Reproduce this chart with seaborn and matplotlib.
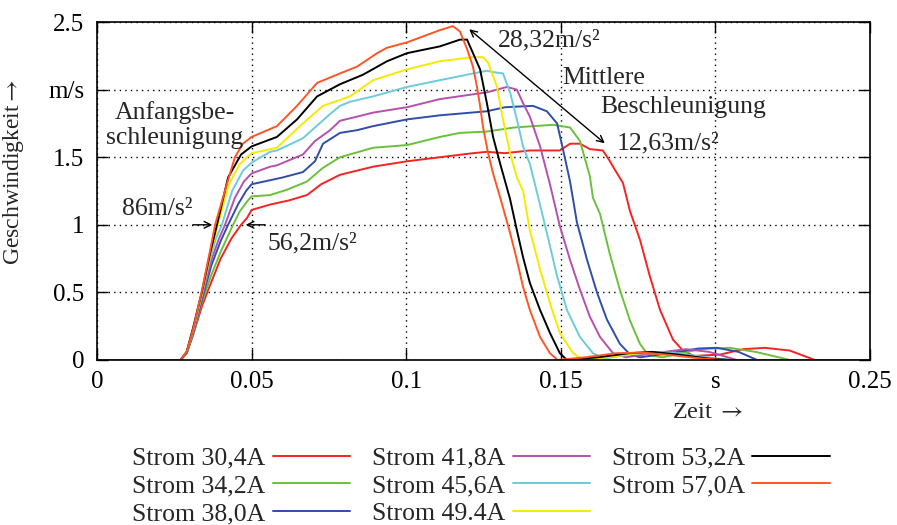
import matplotlib
matplotlib.use("Agg")
import matplotlib.pyplot as plt
import numpy as np
import pandas as pd
import seaborn as sns

# Zeit [s] und Geschwindigkeit [m/s] je Stromstaerke
strom_labels = ["Strom 30,4A", "Strom 34,2A", "Strom 38,0A", "Strom 41,8A",
                "Strom 45,6A", "Strom 49.4A", "Strom 53,2A", "Strom 57,0A"]
farben = ["#f52323", "#6cc03c", "#2f4ea8", "#b650ae",
          "#6ccbdc", "#f7ea00", "#000000", "#ff5526"]

kurve_304 = [(0, 0), (0.027, 0), (0.029, 0.05), (0.031, 0.18), (0.034, 0.40), (0.036, 0.52),
             (0.040, 0.75), (0.0435, 0.90), (0.0466, 1.0), (0.0485, 1.05), (0.050, 1.11),
             (0.056, 1.15), (0.062, 1.18), (0.0679, 1.22), (0.0725, 1.30), (0.0786, 1.37),
             (0.0893, 1.43), (0.1003, 1.47), (0.1109, 1.50), (0.1216, 1.53), (0.1261, 1.54),
             (0.1320, 1.53), (0.1400, 1.55), (0.1497, 1.55), (0.1530, 1.60), (0.1562, 1.60),
             (0.1594, 1.56), (0.1636, 1.55), (0.1659, 1.47), (0.1669, 1.43), (0.1701, 1.31),
             (0.1724, 1.10), (0.1756, 0.89), (0.1788, 0.62), (0.1821, 0.37), (0.1863, 0.15),
             (0.1895, 0.07), (0.193, 0.03), (0.2015, 0.04), (0.209, 0.08), (0.216, 0.09),
             (0.224, 0.07), (0.2322, 0.0), (0.25, 0.0)]
kurve_342 = [(0, 0), (0.027, 0), (0.029, 0.05), (0.031, 0.18), (0.034, 0.43), (0.037, 0.63),
             (0.040, 0.80), (0.044, 1.0), (0.0462, 1.10), (0.0488, 1.18), (0.050, 1.21),
             (0.056, 1.22), (0.0615, 1.26), (0.0679, 1.32), (0.0730, 1.42), (0.0786, 1.50),
             (0.0893, 1.57), (0.1003, 1.59), (0.1109, 1.65), (0.1174, 1.68), (0.1261, 1.69),
             (0.1350, 1.72), (0.1475, 1.74), (0.1530, 1.72), (0.1562, 1.62), (0.1594, 1.36),
             (0.1604, 1.20), (0.1627, 1.08), (0.1659, 0.78), (0.1691, 0.52), (0.1724, 0.29),
             (0.1756, 0.12), (0.1775, 0.06), (0.1798, 0.03), (0.183, 0.02), (0.195, 0.08),
             (0.2045, 0.09), (0.213, 0.06), (0.2242, 0.0), (0.25, 0.0)]
kurve_380 = [(0, 0), (0.027, 0), (0.029, 0.05), (0.031, 0.19), (0.034, 0.45), (0.037, 0.70),
             (0.040, 0.88), (0.0424, 1.0), (0.0456, 1.15), (0.0482, 1.25), (0.050, 1.30),
             (0.056, 1.33), (0.060, 1.35), (0.0666, 1.39), (0.0705, 1.47), (0.0731, 1.60),
             (0.0786, 1.68), (0.0841, 1.70), (0.0893, 1.73), (0.1003, 1.78), (0.1109, 1.81),
             (0.1261, 1.84), (0.1320, 1.87), (0.141, 1.88), (0.1455, 1.84), (0.1488, 1.75),
             (0.1507, 1.56), (0.153, 1.32), (0.1552, 1.02), (0.1585, 0.74), (0.1617, 0.50),
             (0.1649, 0.30), (0.1691, 0.12), (0.1724, 0.04), (0.1756, 0.02), (0.185, 0.05),
             (0.1945, 0.085), (0.2005, 0.09), (0.2075, 0.06), (0.2135, 0.0), (0.25, 0.0)]
kurve_418 = [(0, 0), (0.027, 0), (0.029, 0.055), (0.031, 0.20), (0.034, 0.47), (0.037, 0.74),
             (0.0395, 0.90), (0.0414, 1.0), (0.0446, 1.20), (0.0475, 1.32), (0.050, 1.38),
             (0.056, 1.43), (0.0582, 1.44), (0.0666, 1.52), (0.0705, 1.62), (0.0754, 1.70),
             (0.0786, 1.77), (0.0841, 1.80), (0.0893, 1.83), (0.1003, 1.87), (0.1109, 1.93),
             (0.1261, 1.98), (0.1326, 2.02), (0.1358, 2.0), (0.1378, 1.90), (0.1400, 1.80),
             (0.1433, 1.58), (0.1465, 1.30), (0.1497, 0.99), (0.153, 0.74), (0.1562, 0.52),
             (0.1594, 0.32), (0.1627, 0.17), (0.1669, 0.05), (0.171, 0.02), (0.180, 0.05),
             (0.1905, 0.08), (0.198, 0.06), (0.207, 0.0), (0.25, 0.0)]
kurve_456 = [(0, 0), (0.027, 0), (0.029, 0.055), (0.031, 0.21), (0.034, 0.49), (0.0365, 0.74),
             (0.0385, 0.90), (0.0404, 1.0), (0.0437, 1.25), (0.0472, 1.40), (0.050, 1.46),
             (0.056, 1.54), (0.0582, 1.55), (0.0666, 1.64), (0.0705, 1.72), (0.0754, 1.82),
             (0.0786, 1.88), (0.0818, 1.91), (0.0893, 1.95), (0.1003, 2.02), (0.1109, 2.07),
             (0.1261, 2.14), (0.1281, 2.13), (0.1313, 2.12), (0.1336, 1.98), (0.1358, 1.78),
             (0.1378, 1.58), (0.1400, 1.45), (0.1423, 1.24), (0.1455, 0.94), (0.1488, 0.62),
             (0.152, 0.37), (0.1562, 0.17), (0.1604, 0.05), (0.164, 0.01), (0.172, 0.04),
             (0.180, 0.06), (0.188, 0.05), (0.197, 0.02), (0.205, 0.0), (0.25, 0.0)]
kurve_494 = [(0, 0), (0.027, 0), (0.029, 0.06), (0.031, 0.22), (0.034, 0.50), (0.0365, 0.77),
             (0.0391, 1.0), (0.0427, 1.30), (0.0462, 1.45), (0.050, 1.53), (0.0582, 1.57),
             (0.0666, 1.75), (0.0731, 1.88), (0.0818, 1.95), (0.0893, 2.07), (0.1003, 2.15),
             (0.1109, 2.21), (0.1216, 2.24), (0.1248, 2.24), (0.1265, 2.20), (0.1294, 2.02),
             (0.1313, 1.78), (0.1336, 1.53), (0.1358, 1.35), (0.1378, 1.25), (0.140, 0.96),
             (0.1433, 0.67), (0.1465, 0.42), (0.1497, 0.20), (0.154, 0.05), (0.1572, 0.0),
             (0.165, 0.02), (0.175, 0.05), (0.182, 0.05), (0.192, 0.02), (0.200, 0.0), (0.25, 0.0)]
kurve_532 = [(0, 0), (0.027, 0), (0.029, 0.06), (0.031, 0.23), (0.034, 0.51), (0.0365, 0.78),
             (0.0388, 1.0), (0.0424, 1.35), (0.0466, 1.52), (0.050, 1.58), (0.0582, 1.65),
             (0.0647, 1.78), (0.0712, 1.95), (0.0786, 2.04), (0.086, 2.11), (0.0938, 2.21),
             (0.1003, 2.27), (0.1109, 2.32), (0.1174, 2.37), (0.1197, 2.37), (0.1216, 2.27),
             (0.1239, 2.15), (0.1261, 1.90), (0.1281, 1.65), (0.1303, 1.46), (0.1336, 1.19),
             (0.1358, 0.96), (0.1378, 0.76), (0.140, 0.57), (0.1433, 0.37), (0.1465, 0.20),
             (0.1497, 0.05), (0.152, 0.0), (0.162, 0.02), (0.172, 0.05), (0.1795, 0.06),
             (0.188, 0.04), (0.198, 0.01), (0.205, 0.0), (0.25, 0.0)]
kurve_570 = [(0, 0), (0.027, 0), (0.029, 0.06), (0.031, 0.22), (0.034, 0.52), (0.0365, 0.80),
             (0.0382, 1.0), (0.042, 1.30), (0.0446, 1.50), (0.0472, 1.60), (0.050, 1.65),
             (0.0582, 1.73), (0.0647, 1.88), (0.0712, 2.05), (0.0786, 2.12), (0.0841, 2.17),
             (0.0906, 2.27), (0.0938, 2.31), (0.1003, 2.35), (0.1109, 2.44), (0.1151, 2.47),
             (0.1174, 2.43), (0.1197, 2.30), (0.1216, 2.17), (0.1229, 2.02), (0.1239, 1.88),
             (0.1248, 1.73), (0.1265, 1.53), (0.1281, 1.38), (0.1303, 1.21), (0.1336, 0.94),
             (0.1358, 0.74), (0.1378, 0.54), (0.140, 0.37), (0.1433, 0.17), (0.1465, 0.05),
             (0.149, 0.0), (0.158, 0.02), (0.168, 0.05), (0.1765, 0.055), (0.186, 0.035),
             (0.196, 0.01), (0.203, 0.0), (0.25, 0.0)]

kurven = [kurve_304, kurve_342, kurve_380, kurve_418, kurve_456, kurve_494, kurve_532, kurve_570]

x_ticks = [0, 0.05, 0.1, 0.15, 0.2, 0.25]
x_ticklabels = ["0", "0.05", "0.1", "0.15", "s", "0.25"]
y_ticks = [0, 0.5, 1, 1.5, 2, 2.5]
y_ticklabels = ["0", "0.5", "1", "1.5", "m/s", "2.5"]

rows = []
for lab, k in zip(strom_labels, kurven):
    for t, v in k:
        rows.append({"t": t, "v": v, "strom": lab})
df = pd.DataFrame(rows)

sns.set_theme(style="ticks")
plt.rcParams["font.family"] = ["Liberation Serif", "DejaVu Serif"]
plt.rcParams["mathtext.fontset"] = "stix"

fig = plt.figure(figsize=(8.97, 5.25), dpi=100)
ax = fig.add_axes([0.1081, 0.3143, 0.8618, 0.6437])

sns.lineplot(data=df, x="t", y="v", hue="strom", hue_order=strom_labels,
             palette=farben, estimator=None, sort=False, linewidth=1.4,
             legend=False, ax=ax)

fs = 18.5
ax.set_xlim(0, 0.25)
ax.set_ylim(0, 2.5)
ax.set_xticks(x_ticks)
ax.set_xticklabels(x_ticklabels)
ax.set_yticks(y_ticks)
ax.set_yticklabels(y_ticklabels)
ax.tick_params(direction="in", top=True, right=True, length=8, width=1,
               labelsize=18, colors="black")
ax.tick_params(axis="x", pad=8)
ax.tick_params(axis="y", pad=9)
ax.grid(True, linestyle=(0, (1, 3)), color="black", linewidth=1)
for s in ax.spines.values():
    s.set_color("black")
    s.set_linewidth(1.2)

ax.set_xlabel(r"Zeit $\rightarrow$", fontsize=17.5)
ax.xaxis.set_label_coords(0.79, -0.125)
ax.set_ylabel(r"Geschwindigkeit$\rightarrow$", fontsize=17)
ax.yaxis.set_label_coords(-0.092, 0.556)

# Anmerkungen
ax.text(0.0252, 1.78, "Anfangsbe-", fontsize=fs, ha="center", va="baseline")
ax.text(0.0250, 1.60, "schleunigung", fontsize=fs, ha="center", va="baseline")
ax.text(0.0081, 1.07, "86m/s²", fontsize=fs, ha="left", va="baseline")
ax.annotate("", xy=(0.0382, 1.0), xytext=(0.0301, 1.0),
            arrowprops=dict(arrowstyle="->", color="black", lw=1))
ax.text(0.0553, 0.815, "56,2m/s²", fontsize=fs, ha="left", va="baseline")
ax.annotate("", xy=(0.0472, 1.0), xytext=(0.0553, 1.0),
            arrowprops=dict(arrowstyle="->", color="black", lw=1))
ax.text(0.1297, 2.32, "28,32m/s²", fontsize=fs, ha="left", va="baseline")
ax.text(0.1504, 2.04, "Mittlere", fontsize=fs, ha="left", va="baseline")
ax.text(0.1627, 1.83, "Beschleunigung", fontsize=fs, ha="left", va="baseline")
ax.text(0.1682, 1.555, "12,63m/s²", fontsize=fs, ha="left", va="baseline")
ax.annotate("", xy=(0.1197, 2.46), xytext=(0.1649, 1.59),
            arrowprops=dict(arrowstyle="<->", color="black", lw=1))

handles = ax.get_lines()[:len(strom_labels)]
fig.legend(handles, strom_labels, loc="upper left", bbox_to_anchor=(0.147, 0.149),
           ncol=3, frameon=False, fontsize=fs, markerfirst=False,
           handlelength=3.0, handletextpad=0.3, columnspacing=0.85,
           labelspacing=0.18, borderpad=0, borderaxespad=0)

fig.savefig("out.png", dpi=100)
